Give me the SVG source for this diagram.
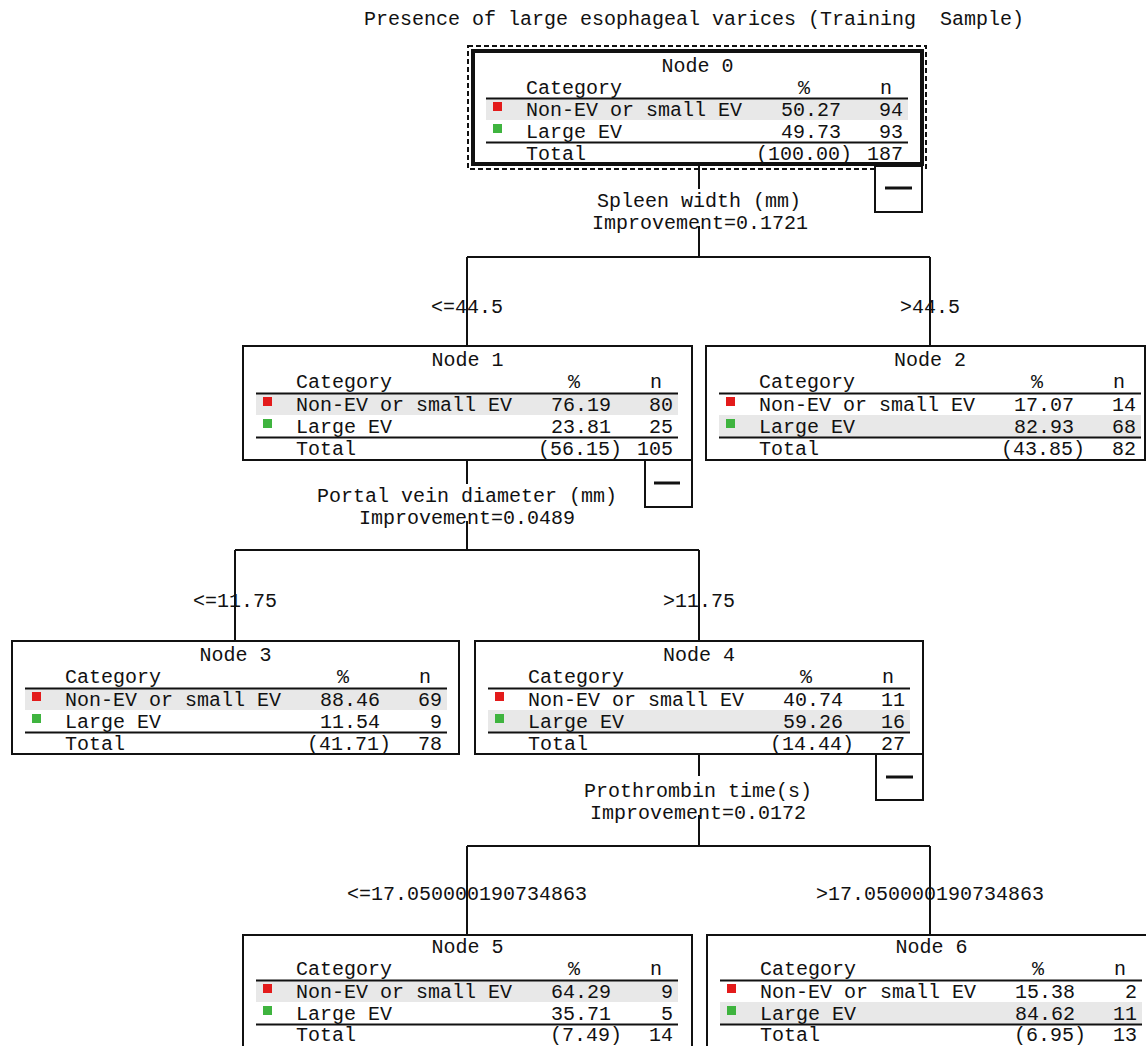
<svg xmlns="http://www.w3.org/2000/svg" width="1146" height="1046" viewBox="0 0 1146 1046">
<style>
text{font-family:"Liberation Mono","DejaVu Sans Mono",monospace;font-size:20px;fill:#111}
.c{text-anchor:middle}
.e{text-anchor:end}
.box{fill:#fff;stroke:#111;stroke-width:2}
.sel{fill:#fff;stroke:#111;stroke-width:4}
.dash{fill:none;stroke:#111;stroke-width:2;stroke-dasharray:5 3}
.rule{stroke:#111;stroke-width:2}
.band{fill:#e8e8e8}
.red{fill:#e31b1b}
.green{fill:#3fb43f}
.conn{stroke:#111;stroke-width:2;fill:none}
.mbox{fill:#fff;stroke:#111;stroke-width:2}
.minus{stroke:#111;stroke-width:3}
</style>
<rect width="1146" height="1046" fill="#fff"/>
<text id="title" x="364" y="25" xml:space="preserve" style="white-space:pre">Presence of large esophageal varices (Training  Sample)</text>

<g id="connectors">
<path class="conn" d="M699 164V189M699 226V257M467 257H930M467 257V346M930 257V346"/>
<path class="conn" d="M467 460V484M467 521V550M235 550H699M235 550V641M699 550V641"/>
<path class="conn" d="M699 754V776M699 815V846M467 846H930M467 846V935M930 846V935"/>
<text class="c" x="699" y="207">Spleen width (mm)</text>
<text class="c" x="700" y="229">Improvement=0.1721</text>
<text class="c" x="467" y="313">&lt;=44.5</text>
<text class="c" x="930" y="313">&gt;44.5</text>
<text class="c" x="467" y="502">Portal vein diameter (mm)</text>
<text class="c" x="467" y="524">Improvement=0.0489</text>
<text class="c" x="235" y="607">&lt;=11.75</text>
<text class="c" x="699" y="607">&gt;11.75</text>
<text class="c" x="698" y="797">Prothrombin time(s)</text>
<text class="c" x="698" y="819">Improvement=0.0172</text>
<text class="c" x="467" y="900">&lt;=17.050000190734863</text>
<text class="c" x="930" y="900">&gt;17.050000190734863</text>
</g>

<g id="node0">
<rect class="dash" x="468" y="46" width="458" height="123"/>
<rect class="sel" x="473" y="51" width="449" height="113"/>
<rect class="band" x="486" y="98" width="422" height="22"/>
<line class="rule" x1="486" y1="98.5" x2="908" y2="98.5"/>
<line class="rule" x1="486" y1="142.5" x2="908" y2="142.5"/>
<text class="c" x="697.5" y="72">Node 0</text>
<text x="526" y="94">Category</text><text class="c" x="804" y="94">%</text><text class="c" x="886" y="94">n</text>
<rect class="red" x="493" y="102" width="9" height="9"/>
<text x="526" y="116">Non-EV or small EV</text><text class="e" x="841" y="116">50.27</text><text class="e" x="903" y="116">94</text>
<rect class="green" x="493" y="124" width="9" height="9"/>
<text x="526" y="138">Large EV</text><text class="e" x="841" y="138">49.73</text><text class="e" x="903" y="138">93</text>
<text x="526" y="160">Total</text><text class="e" x="852" y="160">(100.00)</text><text class="e" x="903" y="160">187</text>
<rect class="mbox" x="875" y="166" width="47" height="46"/>
<line class="minus" x1="885" y1="188" x2="912" y2="188"/>
</g>

<g id="node1">
<rect class="box" x="243" y="346" width="449" height="114"/>
<rect class="band" x="256" y="393" width="422" height="22"/>
<line class="rule" x1="256" y1="393.5" x2="678" y2="393.5"/>
<line class="rule" x1="256" y1="437.5" x2="678" y2="437.5"/>
<text class="c" x="467.5" y="366">Node 1</text>
<text x="296" y="388">Category</text><text class="c" x="574" y="388">%</text><text class="c" x="656" y="388">n</text>
<rect class="red" x="263" y="397" width="9" height="9"/>
<text x="296" y="411">Non-EV or small EV</text><text class="e" x="611" y="411">76.19</text><text class="e" x="673" y="411">80</text>
<rect class="green" x="263" y="419" width="9" height="9"/>
<text x="296" y="433">Large EV</text><text class="e" x="611" y="433">23.81</text><text class="e" x="673" y="433">25</text>
<text x="296" y="455">Total</text><text class="e" x="622" y="455">(56.15)</text><text class="e" x="673" y="455">105</text>
<rect class="mbox" x="645" y="460" width="47" height="47"/>
<line class="minus" x1="654" y1="483" x2="680" y2="483"/>
</g>

<g id="node2">
<rect class="box" x="706" y="346" width="439" height="114"/>
<rect class="band" x="719" y="415" width="422" height="22"/>
<line class="rule" x1="719" y1="393.5" x2="1141" y2="393.5"/>
<line class="rule" x1="719" y1="437.5" x2="1141" y2="437.5"/>
<text class="c" x="930" y="366">Node 2</text>
<text x="759" y="388">Category</text><text class="c" x="1037" y="388">%</text><text class="c" x="1119" y="388">n</text>
<rect class="red" x="726" y="397" width="9" height="9"/>
<text x="759" y="411">Non-EV or small EV</text><text class="e" x="1074" y="411">17.07</text><text class="e" x="1136" y="411">14</text>
<rect class="green" x="726" y="419" width="9" height="9"/>
<text x="759" y="433">Large EV</text><text class="e" x="1074" y="433">82.93</text><text class="e" x="1136" y="433">68</text>
<text x="759" y="455">Total</text><text class="e" x="1085" y="455">(43.85)</text><text class="e" x="1136" y="455">82</text>
</g>

<g id="node3">
<rect class="box" x="12" y="641" width="447" height="113"/>
<rect class="band" x="25" y="688" width="422" height="22"/>
<line class="rule" x1="25" y1="688.5" x2="447" y2="688.5"/>
<line class="rule" x1="25" y1="732.5" x2="447" y2="732.5"/>
<text class="c" x="235.5" y="661">Node 3</text>
<text x="65" y="683">Category</text><text class="c" x="343" y="683">%</text><text class="c" x="425" y="683">n</text>
<rect class="red" x="32" y="692" width="9" height="9"/>
<text x="65" y="706">Non-EV or small EV</text><text class="e" x="380" y="706">88.46</text><text class="e" x="442" y="706">69</text>
<rect class="green" x="32" y="714" width="9" height="9"/>
<text x="65" y="728">Large EV</text><text class="e" x="380" y="728">11.54</text><text class="e" x="442" y="728">9</text>
<text x="65" y="750">Total</text><text class="e" x="391" y="750">(41.71)</text><text class="e" x="442" y="750">78</text>
</g>

<g id="node4">
<rect class="box" x="475" y="641" width="448" height="113"/>
<rect class="band" x="488" y="710" width="422" height="22"/>
<line class="rule" x1="488" y1="688.5" x2="910" y2="688.5"/>
<line class="rule" x1="488" y1="732.5" x2="910" y2="732.5"/>
<text class="c" x="699" y="661">Node 4</text>
<text x="528" y="683">Category</text><text class="c" x="806" y="683">%</text><text class="c" x="888" y="683">n</text>
<rect class="red" x="495" y="692" width="9" height="9"/>
<text x="528" y="706">Non-EV or small EV</text><text class="e" x="843" y="706">40.74</text><text class="e" x="905" y="706">11</text>
<rect class="green" x="495" y="714" width="9" height="9"/>
<text x="528" y="728">Large EV</text><text class="e" x="843" y="728">59.26</text><text class="e" x="905" y="728">16</text>
<text x="528" y="750">Total</text><text class="e" x="854" y="750">(14.44)</text><text class="e" x="905" y="750">27</text>
<rect class="mbox" x="876" y="754" width="47" height="46"/>
<line class="minus" x1="886" y1="777" x2="913" y2="777"/>
</g>

<g id="node5">
<rect class="box" x="243" y="935" width="449" height="114"/>
<rect class="band" x="256" y="980" width="422" height="22"/>
<line class="rule" x1="256" y1="980.5" x2="678" y2="980.5"/>
<line class="rule" x1="256" y1="1024.5" x2="678" y2="1024.5"/>
<text class="c" x="467.5" y="953">Node 5</text>
<text x="296" y="975">Category</text><text class="c" x="574" y="975">%</text><text class="c" x="656" y="975">n</text>
<rect class="red" x="263" y="984" width="9" height="9"/>
<text x="296" y="998">Non-EV or small EV</text><text class="e" x="611" y="998">64.29</text><text class="e" x="673" y="998">9</text>
<rect class="green" x="263" y="1006" width="9" height="9"/>
<text x="296" y="1020">Large EV</text><text class="e" x="611" y="1020">35.71</text><text class="e" x="673" y="1020">5</text>
<text x="296" y="1041">Total</text><text class="e" x="622" y="1041">(7.49)</text><text class="e" x="673" y="1041">14</text>
</g>

<g id="node6">
<rect class="box" x="707" y="935" width="449" height="114"/>
<rect class="band" x="720" y="1002" width="422" height="22"/>
<line class="rule" x1="720" y1="980.5" x2="1142" y2="980.5"/>
<line class="rule" x1="720" y1="1024.5" x2="1142" y2="1024.5"/>
<text class="c" x="931.5" y="953">Node 6</text>
<text x="760" y="975">Category</text><text class="c" x="1038" y="975">%</text><text class="c" x="1120" y="975">n</text>
<rect class="red" x="727" y="984" width="9" height="9"/>
<text x="760" y="998">Non-EV or small EV</text><text class="e" x="1075" y="998">15.38</text><text class="e" x="1137" y="998">2</text>
<rect class="green" x="727" y="1006" width="9" height="9"/>
<text x="760" y="1020">Large EV</text><text class="e" x="1075" y="1020">84.62</text><text class="e" x="1137" y="1020">11</text>
<text x="760" y="1041">Total</text><text class="e" x="1086" y="1041">(6.95)</text><text class="e" x="1137" y="1041">13</text>
</g>
</svg>
